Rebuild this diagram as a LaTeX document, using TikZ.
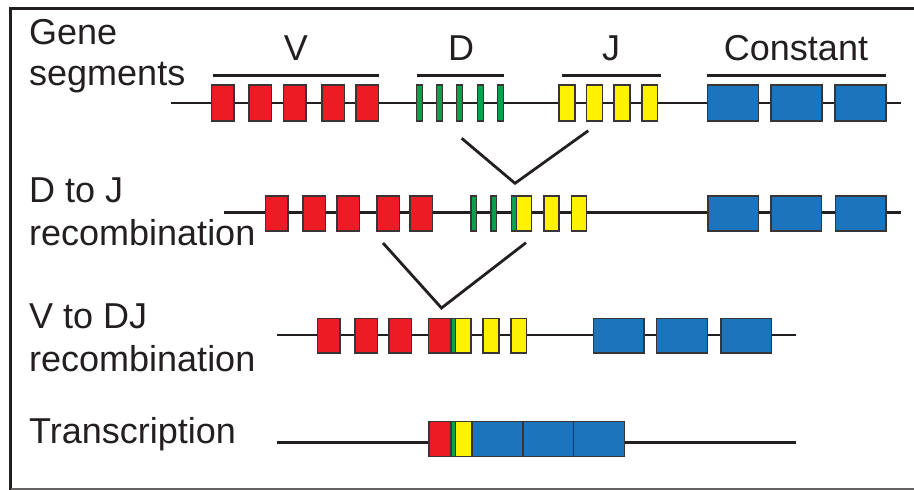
\documentclass[tikz,border=0pt]{standalone}
\usepackage{fontspec}
\setmainfont{Liberation Sans}
\definecolor{ink}{HTML}{231F20}
\definecolor{vred}{HTML}{ED1C24}
\definecolor{dgreen}{HTML}{0BA04C}
\definecolor{jyel}{HTML}{FFF200}
\definecolor{cblue}{HTML}{1C75BC}
\begin{document}
\begin{tikzpicture}[x=1pt,y=-1pt,
  seg/.style={draw=ink!90, line width=1.5pt, inner sep=0pt, outer sep=0pt},
  rbox/.style={seg, fill=vred, minimum width=22.5pt},
  gbox/.style={seg, fill=dgreen, minimum width=5.5pt},
  ybox/.style={seg, fill=jyel, minimum width=15.8pt},
  bbox/.style={seg, fill=cblue, minimum width=51pt},
  backbone/.style={draw=ink, line width=2.8pt},
  bar/.style={draw=ink, line width=2.8pt},
  vline/.style={draw=ink, line width=2.8pt, line join=miter},
  lab/.style={inner sep=0pt, anchor=base west, text=ink, font=\fontsize{36}{36}\selectfont},
  hdr/.style={inner sep=0pt, anchor=base, text=ink, font=\fontsize{36}{36}\selectfont}]
\useasboundingbox (0,0) rectangle (914,490);
% frame
\draw[ink, line width=3pt] (10.7,490) -- (10.7,8.7) -- (914,8.7);
\draw[ink!70, line width=2pt] (10.7,489) -- (914,489);

% labels
\node[lab] (tgene) at (29,44) {Gene};
\node[lab] (tseg) at (29,85) {segments};
\node[lab] (tdj) at (29,202) {D to J};
\node[lab] (trec1) at (29,245) {recombination};
\node[lab] (tvdj) at (29,328) {V to DJ};
\node[lab] (trec2) at (29,371.5) {recombination};
\node[lab] (ttr) at (29,443) {Transcription};
\node[hdr] (hv) at (296,60) {V};
\node[hdr] (hd) at (461,60) {D};
\node[hdr] (hj) at (611,60) {J};
\node[hdr] (hc) at (796,60) {Constant};

% bars above segments
\coordinate (bv1) at (212.7,75.3); \coordinate (bv2) at (379.3,75.3);
\coordinate (bd1) at (417.3,75.3); \coordinate (bd2) at (504,75.3);
\coordinate (bj1) at (561.7,75.3); \coordinate (bj2) at (660.7,75.3);
\coordinate (bc1) at (706.7,75.3); \coordinate (bc2) at (886,75.3);
\draw[bar] (bv1) -- (bv2);
\draw[bar] (bd1) -- (bd2);
\draw[bar] (bj1) -- (bj2);
\draw[bar] (bc1) -- (bc2);

% ---------- row 1 : gene segments ----------
\coordinate (a1) at (171,103); \coordinate (a2) at (901,103);
\draw[backbone] (a1) -- (a2);
\foreach \x [count=\i] in {222.9,260,294.5,333.3,367}
  \node[rbox, minimum height=36pt] (r1v\i) at (\x,103) {};
\foreach \x [count=\i] in {419.7,439.7,459.7,480.3,500.3}
  \node[gbox, minimum height=36pt, minimum width=6pt] (r1d\i) at (\x,103) {};
\foreach \x [count=\i] in {567,594.5,622,649.7}
  \node[ybox, minimum height=36pt] (r1j\i) at (\x,103) {};
\foreach \x [count=\i] in {733.2,796.5,860.7}
  \node[bbox, minimum height=36pt] (r1c\i) at (\x,103) {};

% V joining rows 1 and 2
\coordinate (k1l) at (461.7,138.3);
\coordinate (k1v) at (515,183.3);
\coordinate (k1r) at (588.3,130.7);
\draw[vline] (k1l) -- (k1v) -- (k1r);

% ---------- row 2 : D to J ----------
\coordinate (b1) at (224.3,212.7); \coordinate (b2) at (901,212.7);
\draw[backbone] (b1) -- (b2);
\foreach \x [count=\i] in {276.7,314.2,348,388,421.3}
  \node[rbox, minimum height=35pt] (r2v\i) at (\x,213.3) {};
\foreach \x [count=\i] in {473.9,493.9,514.2}
  \node[gbox, minimum height=35pt] (r2d\i) at (\x,213.3) {};
\foreach \x [count=\i] in {524.2,551.7,579.2}
  \node[ybox, minimum height=35pt, minimum width=15pt] (r2j\i) at (\x,213.3) {};
\foreach \x [count=\i] in {733.3,796.4,860.9}
  \node[bbox, minimum height=35pt, minimum width=50.5pt] (r2c\i) at (\x,213.3) {};

% V joining rows 2 and 3
\coordinate (k2l) at (383,243);
\coordinate (k2v) at (441.5,308);
\coordinate (k2r) at (526,242.7);
\draw[vline] (k2l) -- (k2v) -- (k2r);

% ---------- row 3 : V to DJ ----------
\coordinate (c1) at (276.7,335); \coordinate (c2) at (796,335);
\draw[backbone] (c1) -- (c2);
\foreach \x [count=\i] in {328.9,366.4,400.4,439.9}
  \node[rbox, minimum height=34.5pt] (r3v\i) at (\x,335.5) {};
\node[gbox, minimum height=34.5pt, minimum width=4.3pt] (r3d) at (453.2,335.5) {};
\foreach \x [count=\i] in {463.2,491,518.9}
  \node[ybox, minimum height=34.5pt, minimum width=15.6pt] (r3j\i) at (\x,335.5) {};
\foreach \x [count=\i] in {618.7,682,746.4}
  \node[bbox, minimum height=34.5pt, minimum width=50.6pt] (r3c\i) at (\x,335.5) {};

% ---------- row 4 : transcription ----------
\coordinate (d1) at (276.7,442.3); \coordinate (d2) at (796,442.3);
\draw[backbone] (d1) -- (d2);
\node[rbox, minimum height=35pt, minimum width=22pt] (r4v) at (440,439.2) {};
\node[gbox, minimum height=35pt, minimum width=4.7pt] (r4d) at (453.4,439.2) {};
\node[ybox, minimum height=35pt, minimum width=16pt] (r4j) at (463.7,439.2) {};
\foreach \x [count=\i] in {497.5,548.7,599}
  \node[bbox, minimum height=35pt, minimum width=50.7pt] (r4c\i) at (\x,439.2) {};
\end{tikzpicture}
\end{document}
